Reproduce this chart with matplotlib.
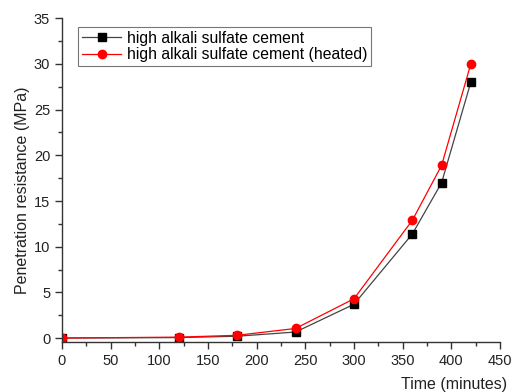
import matplotlib
matplotlib.use("Agg")
import matplotlib.pyplot as plt
from matplotlib.ticker import MultipleLocator

plt.rcParams['font.family'] = ['Liberation Sans', 'DejaVu Sans']

time = [0, 120, 180, 240, 300, 360, 390, 420]
normal = [0.0, 0.05, 0.2, 0.66, 3.7, 11.4, 17.0, 28.0]
heated = [0.0, 0.1, 0.3, 1.05, 4.3, 12.9, 18.9, 30.0]
labels = ["high alkali sulfate cement", "high alkali sulfate cement (heated)"]

fig = plt.figure(figsize=(5.11, 3.92), dpi=100)
ax = fig.add_axes([62/511, 1 - 341.7/392, (500-62)/511, (341.7-18.3)/392])

ax.plot(time, normal, color='#444444', lw=0.9, marker='s', ms=5.2,
        mfc='black', mec='black', label=labels[0])
ax.plot(time, heated, color='red', lw=0.9, marker='o', ms=6,
        mfc='red', mec='red', label=labels[1])

ax.set_xlim(0, 450)
ax.set_ylim(-0.4, 35)
ax.xaxis.set_major_locator(MultipleLocator(50))
ax.xaxis.set_minor_locator(MultipleLocator(25))
ax.yaxis.set_major_locator(MultipleLocator(5))
ax.yaxis.set_minor_locator(MultipleLocator(2.5))
ax.spines['top'].set_visible(False)
ax.spines['right'].set_visible(False)
for s in ['left', 'bottom']:
    ax.spines[s].set_linewidth(1.0)
    ax.spines[s].set_color('#333333')
ax.tick_params(which='major', direction='out', length=5, width=1, labelsize=10.5, colors='#333333', labelcolor='#222222')
ax.tick_params(which='minor', direction='out', length=3, width=1, colors='#333333')

ax.set_ylabel("Penetration resistance (MPa)", fontsize=11.5, color='#222222')
ax.yaxis.set_label_coords(-32/438, (341.7-190.5)/323.4)
fig.text(507/511, 1 - 384/392, "Time (minutes)", ha='right', va='center', fontsize=11.5, color='#222222')

leg = ax.legend(loc='upper left', bbox_to_anchor=((78-62)/438, (341.7-27)/323.4),
                fontsize=11.3, frameon=True, fancybox=False, borderpad=0.25,
                handlelength=2.5, handletextpad=0.35, labelspacing=0.1, borderaxespad=0)
leg.get_frame().set_edgecolor('#555555')
leg.get_frame().set_linewidth(0.8)

fig.savefig("out.png", dpi=100)
